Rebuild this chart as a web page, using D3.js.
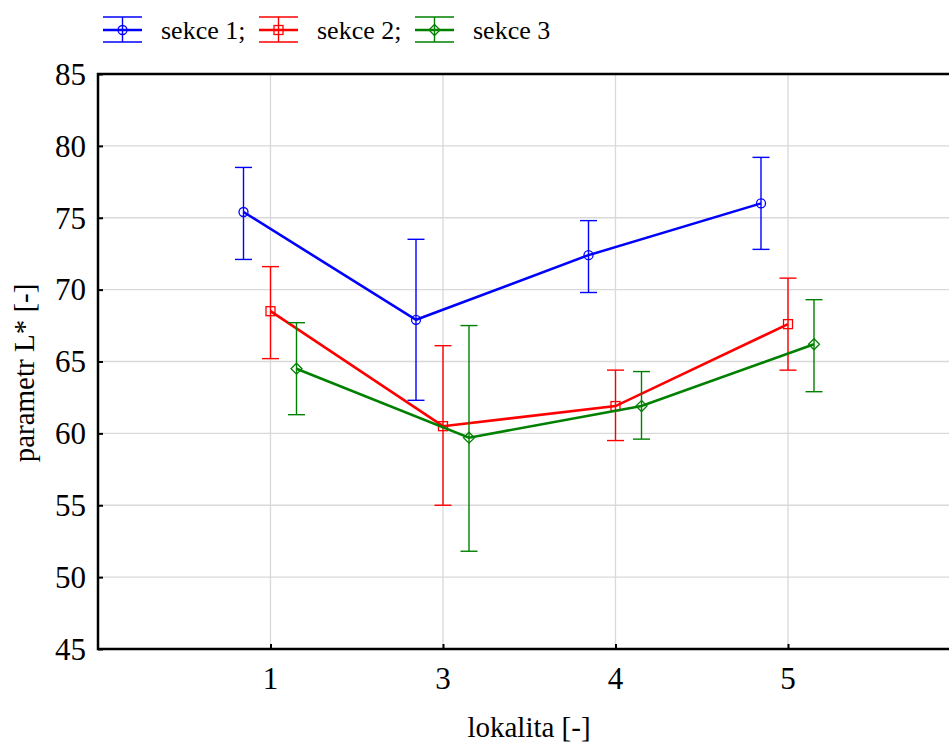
<!DOCTYPE html>
<html>
<head>
<meta charset="utf-8">
<script src="https://cdnjs.cloudflare.com/ajax/libs/d3/7.8.5/d3.min.js"></script>
<style>
  html, body { margin:0; padding:0; background:#fff; overflow:hidden; }
  svg text { font-family: "Liberation Serif", "Times New Roman", serif; fill:#000; }
  .grid line { stroke:#d9d9d9; stroke-width:1.3; }
</style>
</head>
<body>
<svg width="949" height="744"></svg>
<script>
// categories on x axis (lokalita)
var lokality = ["1", "3", "4", "5"];
var yTicks = [45, 50, 55, 60, 65, 70, 75, 80, 85];

// mean, lower and upper whisker per series
var sekce1 = [75.4, 67.9, 72.4, 76.0];
var sekce1Lo = [72.1, 62.3, 69.8, 72.8];
var sekce1Hi = [78.5, 73.5, 74.8, 79.2];

var sekce2 = [68.5, 60.5, 61.9, 67.6];
var sekce2Lo = [65.2, 55.0, 59.5, 64.4];
var sekce2Hi = [71.6, 66.1, 64.4, 70.8];

var sekce3 = [64.5, 59.7, 61.9, 66.2];
var sekce3Lo = [61.3, 51.8, 59.6, 62.9];
var sekce3Hi = [67.7, 67.5, 64.3, 69.3];

var series = [
  {name: "sekce 1;", color: "#0000ff", shape: "circle", mean: sekce1, lo: sekce1Lo, hi: sekce1Hi, dx: -27},
  {name: "sekce 2;", color: "#ff0000", shape: "square", mean: sekce2, lo: sekce2Lo, hi: sekce2Hi, dx: 0},
  {name: "sekce 3", color: "#008000", shape: "diamond", mean: sekce3, lo: sekce3Lo, hi: sekce3Hi, dx: 26}
];

var svg = d3.select("svg");
var pLeft = 98, pTop = 74, pBottom = 649, pRight = 960.5;

var x = d3.scalePoint().domain(lokality).range([pLeft, pRight]).padding(1);
var y = d3.scaleLinear().domain([45, 85]).range([pBottom, pTop]);

// grid
var grid = svg.append("g").attr("class", "grid");
grid.selectAll(".h").data(yTicks.slice(1, -1)).enter().append("line")
  .attr("x1", pLeft).attr("x2", pRight)
  .attr("y1", function(d) { return y(d); }).attr("y2", function(d) { return y(d); });
grid.selectAll(".v").data(lokality).enter().append("line")
  .attr("x1", function(d) { return x(d); }).attr("x2", function(d) { return x(d); })
  .attr("y1", pTop).attr("y2", pBottom);

// axes
var yAxis = svg.append("g").attr("transform", "translate(" + pLeft + ",0)")
  .call(d3.axisRight(y).tickValues(yTicks).tickSize(5).tickFormat(""));
yAxis.select(".domain").remove();
yAxis.selectAll("line").attr("stroke", "#000").attr("stroke-width", 2);

svg.selectAll(".ylab").data(yTicks).enter().append("text")
  .attr("x", pLeft - 12).attr("y", function(d) { return y(d); })
  .attr("dy", "0.35em").attr("text-anchor", "end")
  .style("font-size", "31px").text(function(d) { return d; });

var xAxis = svg.append("g").attr("transform", "translate(0," + pBottom + ")")
  .call(d3.axisTop(x).tickSize(5).tickFormat(""));
xAxis.select(".domain").remove();
xAxis.selectAll("line").attr("stroke", "#000").attr("stroke-width", 2);

svg.selectAll(".xlab").data(lokality).enter().append("text")
  .attr("x", function(d) { return x(d); }).attr("y", pBottom + 40)
  .attr("text-anchor", "middle")
  .style("font-size", "31px").text(function(d) { return d; });

// frame: left, bottom, top
svg.append("path")
  .attr("d", "M" + pRight + "," + pTop + "H" + pLeft + "V" + pBottom + "H" + pRight)
  .attr("fill", "none").attr("stroke", "#000").attr("stroke-width", 2.5);

svg.append("text").attr("x", 529).attr("y", 737).attr("text-anchor", "middle")
  .style("font-size", "29px").text("lokalita [-]");
svg.append("text").attr("transform", "translate(34,373) rotate(-90)")
  .attr("text-anchor", "middle").style("font-size", "29px").text("parametr L* [-]");

function marker(g, shape, color, cx, cy) {
  if (shape === "circle") {
    g.append("circle").attr("cx", cx).attr("cy", cy).attr("r", 4.5)
      .attr("fill", "none").attr("stroke", color).attr("stroke-width", 1.3);
  } else if (shape === "square") {
    g.append("rect").attr("x", cx - 4.5).attr("y", cy - 4.5).attr("width", 9).attr("height", 9)
      .attr("fill", "none").attr("stroke", color).attr("stroke-width", 1.3);
  } else {
    g.append("path").attr("d", "M" + cx + "," + (cy - 5.5) + "L" + (cx + 5.5) + "," + cy +
      "L" + cx + "," + (cy + 5.5) + "L" + (cx - 5.5) + "," + cy + "Z")
      .attr("fill", "none").attr("stroke", color).attr("stroke-width", 1.3);
  }
}

var line = d3.line().x(function(d) { return d[0]; }).y(function(d) { return d[1]; });

series.forEach(function(s) {
  var g = svg.append("g");
  var pts = lokality.map(function(c, i) { return [x(c) + s.dx, y(s.mean[i])]; });
  // error bars
  lokality.forEach(function(c, i) {
    var cx = x(c) + s.dx;
    g.append("line").attr("x1", cx).attr("x2", cx)
      .attr("y1", y(s.lo[i])).attr("y2", y(s.hi[i]))
      .attr("stroke", s.color).attr("stroke-width", 1.4);
    [s.lo[i], s.hi[i]].forEach(function(v) {
      g.append("line").attr("x1", cx - 8.5).attr("x2", cx + 8.5)
        .attr("y1", y(v)).attr("y2", y(v))
        .attr("stroke", s.color).attr("stroke-width", 1.4);
    });
  });
  g.append("path").attr("d", line(pts)).attr("fill", "none")
    .attr("stroke", s.color).attr("stroke-width", 2.6);
  pts.forEach(function(p) { marker(g, s.shape, s.color, p[0], p[1]); });
});

// legend
var legX = [103, 259, 415];
series.forEach(function(s, i) {
  var g = svg.append("g");
  var x0 = legX[i], x1 = x0 + 39, cx = (x0 + x1) / 2, cy = 30;
  g.append("line").attr("x1", x0).attr("x2", x1).attr("y1", 17).attr("y2", 17)
    .attr("stroke", s.color).attr("stroke-width", 1.4);
  g.append("line").attr("x1", x0).attr("x2", x1).attr("y1", 42).attr("y2", 42)
    .attr("stroke", s.color).attr("stroke-width", 1.4);
  g.append("line").attr("x1", cx).attr("x2", cx).attr("y1", 17).attr("y2", 42)
    .attr("stroke", s.color).attr("stroke-width", 1.4);
  g.append("line").attr("x1", x0).attr("x2", x1).attr("y1", cy).attr("y2", cy)
    .attr("stroke", s.color).attr("stroke-width", 2.6);
  marker(g, s.shape, s.color, cx, cy);
  g.append("text").attr("x", x1 + 19).attr("y", cy).attr("dy", "0.35em")
    .style("font-size", "26px").text(s.name);
});
</script>
</body>
</html>
